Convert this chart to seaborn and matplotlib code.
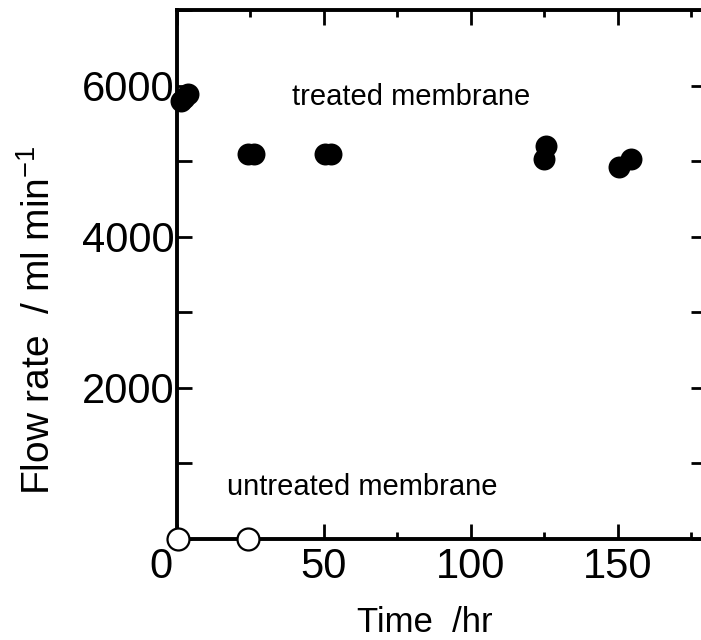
import matplotlib
matplotlib.use("Agg")
import matplotlib.pyplot as plt
import matplotlib.transforms as mtransforms
import seaborn as sns
import pandas as pd
from matplotlib.ticker import MultipleLocator, FixedLocator

# ---- data ----
treated_time = [1.4, 2.5, 3.7, 24.0, 26.2, 50.3, 52.4, 125.0, 125.5, 150.3, 154.4]
treated_flow = [5790, 5840, 5890, 5100, 5100, 5100, 5100, 5030, 5200, 4920, 5030]
untreated_time = [0.4, 24.3]
untreated_flow = [0, 0]

x_ticks = [0, 50, 100, 150]
y_ticks = [2000, 4000, 6000]
x_label = "Time  /hr"
y_label = "Flow rate  / ml min$^{-1}$"
label_treated = "treated membrane"
label_untreated = "untreated membrane"

sns.set_theme(style="ticks")
plt.rcParams['font.family'] = ['Liberation Sans', 'DejaVu Sans']
plt.rcParams['mathtext.default'] = 'regular'
for k in ['text.color', 'axes.labelcolor', 'xtick.color', 'ytick.color', 'axes.edgecolor']:
    plt.rcParams[k] = 'black'

df_t = pd.DataFrame({"time": treated_time, "flow": treated_flow})
df_u = pd.DataFrame({"time": untreated_time, "flow": untreated_flow})

fig = plt.figure(figsize=(7.01, 6.40), dpi=100)
ax = fig.add_axes([177/701, 1 - 539/640, (706-177)/701, (539-10)/640])

sns.scatterplot(data=df_t, x="time", y="flow", ax=ax, s=250, color="black",
                edgecolor="black", linewidth=0, marker="o", zorder=5, clip_on=False)
sns.scatterplot(data=df_u, x="time", y="flow", ax=ax, s=250, color="white",
                edgecolor="black", linewidth=1.6, marker="o", zorder=6, clip_on=False)

ax.set_xlim(0, 180)
ax.set_ylim(0, 7000)

ax.xaxis.set_major_locator(FixedLocator(x_ticks))
ax.xaxis.set_minor_locator(MultipleLocator(25))
ax.yaxis.set_major_locator(FixedLocator(y_ticks))
ax.yaxis.set_minor_locator(MultipleLocator(1000))
ax.set_xticklabels([str(v) for v in x_ticks])
ax.set_yticklabels([str(v) for v in y_ticks])

for sp in ax.spines.values():
    sp.set_linewidth(2.8)
    sp.set_color("black")
    sp.set_visible(True)

ax.tick_params(axis="both", which="both", direction="in", top=True, right=True,
               width=2.0, color="black", labelcolor="black")
ax.tick_params(axis="x", which="major", length=11, labelsize=30, pad=6)
ax.tick_params(axis="x", which="minor", length=5)
ax.tick_params(axis="y", which="major", length=11, labelsize=30, pad=2)
ax.tick_params(axis="y", which="minor", length=11)

# the origin label sits a little to the left of the corner
lbl0 = ax.get_xticklabels()[0]
lbl0.set_transform(lbl0.get_transform() + mtransforms.ScaledTranslation(-16/100, 0, fig.dpi_scale_trans))

ax.set_xlabel(x_label, fontsize=25)
ax.set_ylabel(y_label, fontsize=28)
ax.xaxis.set_label_coords((425-177)/529, (539-606)/529)
ax.yaxis.set_label_coords((58-177)/529, (539-320)/529)

fig.text(292/701, 1 - 97/640, label_treated, fontsize=21, va="center", ha="left")
fig.text(227/701, 1 - 487/640, label_untreated, fontsize=21, va="center", ha="left")

fig.savefig("out.png", dpi=100)
